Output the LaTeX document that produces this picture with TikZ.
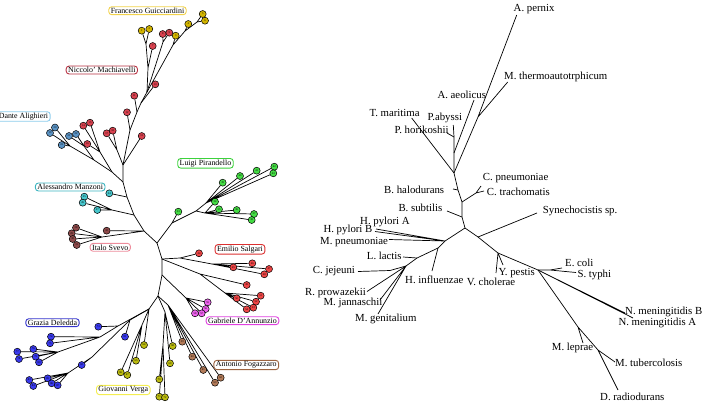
\documentclass[tikz,border=0pt]{standalone}
\usepackage{fontspec}
\setmainfont{Liberation Serif}
\usepackage{xcolor}
\usepackage{tikz}
\usetikzlibrary{positioning,backgrounds}

\definecolor{guicc}{HTML}{D2B400}
\definecolor{guicb}{HTML}{F2D24A}
\definecolor{machc}{HTML}{D8424F}
\definecolor{machb}{HTML}{B83040}
\definecolor{dantc}{HTML}{5B93C4}
\definecolor{dantb}{HTML}{8CCCEC}
\definecolor{manzc}{HTML}{46C6CC}
\definecolor{manzb}{HTML}{3CB4C0}
\definecolor{svevc}{HTML}{8E4A4A}
\definecolor{svevb}{HTML}{EE8C9C}
\definecolor{pirac}{HTML}{44DC44}
\definecolor{pirab}{HTML}{3CD23C}
\definecolor{salgc}{HTML}{EE4646}
\definecolor{salgb}{HTML}{DC3030}
\definecolor{dannc}{HTML}{EE62EE}
\definecolor{dannb}{HTML}{E040E0}
\definecolor{fogac}{HTML}{B27A58}
\definecolor{fogab}{HTML}{9C6440}
\definecolor{vergc}{HTML}{BCBC10}
\definecolor{vergb}{HTML}{F4EE50}
\definecolor{delec}{HTML}{3A3AEE}
\definecolor{deleb}{HTML}{3434CC}

\begin{document}
\begin{tikzpicture}[
    x=1pt, y=-1pt,
    font=\fontsize{10.8}{12}\selectfont,
    leaf/.style={
        circle,
        draw=black,
        line width=0.5pt,
        inner sep=0pt,
        minimum size=7pt,
        font=\fontsize{2.8}{3}\selectfont
    },
    gui/.style={leaf, fill=guicc},
    mac/.style={leaf, fill=machc},
    dan/.style={leaf, fill=dantc},
    man/.style={leaf, fill=manzc},
    sve/.style={leaf, fill=svevc},
    pir/.style={leaf, fill=pirac},
    sal/.style={leaf, fill=salgc},
    dnn/.style={leaf, fill=dannc},
    fog/.style={leaf, fill=fogac},
    ver/.style={leaf, fill=vergc},
    del/.style={leaf, fill=delec},
    tag/.style={
        draw,
        rounded corners=3pt,
        line width=0.9pt,
        fill=white,
        inner xsep=2pt,
        inner ysep=1.2pt,
        font=\fontsize{7.9}{9}\selectfont
    },
    lab/.style={anchor=west, inner sep=0pt},
    edge/.style={line width=0.7pt}
]
\useasboundingbox (0,0) rectangle (702,408);

% left tree: author tags
\node[tag, draw=guicb] (lguic) at (147.5,10.7) {Francesco Guicciardini};
\node[tag, draw=machb] (lmach) at (101.8,70) {Niccolo’ Machiavelli};
\node[tag, draw=dantb] (ldant) at (23.5,116.5) {Dante Alighieri};
\node[tag, draw=manzb] (lmanz) at (70.2,187) {Alessandro Manzoni};
\node[tag, draw=svevb] (lsvev) at (110.3,247.3) {Italo Svevo};
\node[tag, draw=pirab] (lpira) at (205.5,163.3) {Luigi Pirandello};
\node[tag, draw=salgb] (lsalg) at (240,249.3) {Emilio Salgari};
\node[tag, draw=dannb] (ldann) at (242.5,320.7) {Gabriele D’Annunzio};
\node[tag, draw=fogab] (lfoga) at (246.3,365) {Antonio Fogazzaro};
\node[tag, draw=vergb] (lverg) at (123.3,390) {Giovanni Verga};
\node[tag, draw=deleb] (ldele) at (52.5,322.7) {Grazia Deledda};

% left tree: leaves
\node[gui] (gu1) at (141.7,30.7) {1};
\node[gui] (gu2) at (149.3,29) {2};
\node[gui] (gu3) at (175.7,35.7) {3};
\node[gui] (gu4) at (188.3,24) {4};
\node[gui] (gu5) at (202.7,14) {5};
\node[gui] (gu6) at (205,20.7) {6};
\node[mac] (ma1) at (152.7,46) {7};
\node[mac] (ma2) at (162.7,34) {8};
\node[mac] (ma3) at (169.3,32.7) {9};
\node[mac] (ma4) at (155.3,84.3) {10};
\node[mac] (ma5) at (134.3,95.7) {11};
\node[mac] (ma6) at (127,112.3) {12};
\node[mac] (ma7) at (141.7,136) {13};
\node[mac] (ma8) at (83.3,125.7) {14};
\node[mac] (ma9) at (90,122.7) {15};
\node[mac] (ma10) at (87.3,144) {16};
\node[mac] (ma11) at (106.7,133.3) {17};
\node[mac] (ma12) at (112.7,130.7) {18};
\node[dan] (da1) at (50,133) {19};
\node[dan] (da2) at (55,127.5) {20};
\node[dan] (da3) at (69,136) {21};
\node[dan] (da4) at (76,134) {22};
\node[dan] (da5) at (61.7,145) {23};
\node[man] (mz1) at (109.3,193.3) {24};
\node[man] (mz2) at (84.3,196.7) {25};
\node[man] (mz3) at (82.7,202.7) {26};
\node[man] (mz4) at (97.3,210) {27};
\node[sve] (sv1) at (76,227.7) {28};
\node[sve] (sv2) at (71.7,233.3) {29};
\node[sve] (sv3) at (72.7,239) {30};
\node[sve] (sv4) at (76.7,245) {31};
\node[sve] (sv5) at (106.7,230.7) {32};
\node[pir] (pi1) at (178.3,211.7) {33};
\node[pir] (pi2) at (215,201.7) {34};
\node[pir] (pi3) at (219,209.3) {35};
\node[pir] (pi4) at (236.7,210) {36};
\node[pir] (pi5) at (254,214) {37};
\node[pir] (pi6) at (251.7,220) {38};
\node[pir] (pi7) at (222.7,182.7) {39};
\node[pir] (pi8) at (240,176) {40};
\node[pir] (pi9) at (256.7,170.7) {41};
\node[pir] (pi10) at (274.3,166.7) {42};
\node[pir] (pi11) at (273.3,173.3) {43};
\node[sal] (sa1) at (199,253.3) {44};
\node[sal] (sa2) at (233.3,267.3) {45};
\node[sal] (sa3) at (252.3,263.3) {46};
\node[sal] (sa4) at (269,269) {47};
\node[sal] (sa5) at (264.3,274.3) {48};
\node[sal] (sa6) at (246.7,285) {49};
\node[sal] (sa7) at (236.7,298.3) {50};
\node[sal] (sa8) at (260.7,295.7) {51};
\node[sal] (sa9) at (256,301.7) {52};
\node[sal] (sa10) at (253.3,307.7) {53};
\node[sal] (sa11) at (246.7,309.3) {54};
\node[dnn] (an1) at (207.7,302.3) {55};
\node[dnn] (an2) at (205.7,309) {56};
\node[dnn] (an3) at (201.7,313.3) {57};
\node[dnn] (an4) at (195,313.3) {58};
\node[fog] (fo1) at (182.3,341.7) {59};
\node[fog] (fo2) at (192.3,356.7) {60};
\node[fog] (fo3) at (203.3,370) {61};
\node[fog] (fo4) at (220.7,377.7) {62};
\node[fog] (fo5) at (215,382.7) {63};
\node[ver] (ve1) at (144,345) {64};
\node[ver] (ve2) at (136,360.7) {65};
\node[ver] (ve3) at (120.7,372.3) {66};
\node[ver] (ve4) at (127.3,375) {67};
\node[ver] (ve5) at (172.7,346) {68};
\node[ver] (ve6) at (170,363.3) {69};
\node[ver] (ve7) at (159.3,379.3) {70};
\node[ver] (ve8) at (159.3,396.7) {71};
\node[ver] (ve9) at (165,397.3) {72};
\node[del] (de1) at (98.3,326.7) {73};
\node[del] (de2) at (51,336.7) {74};
\node[del] (de3) at (50,343.3) {75};
\node[del] (de4) at (33.3,349) {76};
\node[del] (de5) at (17.3,351.7) {77};
\node[del] (de6) at (19,359) {78};
\node[del] (de7) at (35.7,356.7) {79};
\node[del] (de8) at (39,362.3) {80};
\node[del] (de9) at (125,336.7) {81};
\node[del] (de10) at (81.7,365) {82};
\node[del] (de11) at (29.3,380) {83};
\node[del] (de12) at (33.3,386) {84};
\node[del] (de13) at (47.7,378.3) {85};
\node[del] (de14) at (51.7,383.3) {86};
\node[del] (de15) at (57.7,385.3) {87};

% left tree: inner points
\coordinate (c0) at (157,243);
\coordinate (c1) at (162,259);
\coordinate (c2) at (162,275);
\coordinate (c3) at (158,296);
\coordinate (t1) at (144,231);
\coordinate (t2) at (134,215);
\coordinate (t3) at (127,197);
\coordinate (t4) at (123,182);
\coordinate (t5) at (123,165);
\coordinate (t6) at (130,130);
\coordinate (t7) at (137,112);
\coordinate (t8) at (141,103);
\coordinate (t9) at (147,92);
\coordinate (hm) at (148,68);
\coordinate (hga) at (146,44);
\coordinate (hrb) at (163,42);
\coordinate (hgb) at (173,45);
\coordinate (hgc) at (185,31);
\coordinate (hgd) at (197,22);
\coordinate (hd1) at (112,172);
\coordinate (hd2) at (94,160);
\coordinate (hd3) at (70,146);
\coordinate (hd4) at (84,146);
\coordinate (hd5) at (100,152);
\coordinate (hd6) at (117,150);
\coordinate (hz) at (112,210);
\coordinate (hs) at (102,237);
\coordinate (hp0) at (172,223);
\coordinate (hpa) at (196,211);
\coordinate (hpl) at (205,213);
\coordinate (hpu) at (206,203);
\coordinate (hsa) at (180,258);
\coordinate (hsu) at (212,264);
\coordinate (hsl) at (200,274);
\coordinate (hsm) at (225,293);
\coordinate (hn) at (186,298);
\coordinate (hvl) at (149,309);
\coordinate (hva) at (142,325);
\coordinate (hb1) at (118,326);
\coordinate (hb2) at (100,337);
\coordinate (hb3) at (58,352);
\coordinate (hb4) at (130,320);
\coordinate (hb5) at (92,357);
\coordinate (hb6) at (68,373);
\coordinate (hvb) at (165,312);
\coordinate (hvc) at (163,345);
\coordinate (hf) at (168,305);

% right tree: inner points
\coordinate (r0) at (465,228);
\coordinate (ru1) at (462,202);
\coordinate (ru2) at (454,173);
\coordinate (ru3) at (454,153);
\coordinate (ru4) at (454,137);
\coordinate (ru5) at (478,117);
\coordinate (rbh) at (458,190);
\coordinate (rbs) at (462,217);
\coordinate (rcc) at (476,193);
\coordinate (rl1) at (445,241);
\coordinate (rl2) at (438,248);
\coordinate (rl3) at (417,258);
\coordinate (rl4) at (406,266);
\coordinate (rl5) at (390,270.5);
\coordinate (rs1) at (478,237);
\coordinate (rs2) at (498,253);
\coordinate (rs3) at (538,270);
\coordinate (rs4) at (550,270);
\coordinate (rs5) at (578,327);
\coordinate (rs6) at (598,350);

% right tree: tips
\coordinate (pernix) at (516.7,15);
\coordinate (thermo) at (507.7,82);
\coordinate (aeolicus) at (474,100);
\coordinate (maritima) at (411.7,118);
\coordinate (abyssi) at (453.3,125);
\coordinate (horikoshii) at (447,133);
\coordinate (cpneu) at (481,186);
\coordinate (trach) at (484,191);
\coordinate (halo) at (453,189);
\coordinate (subtilis) at (447,211);
\coordinate (pyloriA) at (376,229);
\coordinate (pyloriB) at (375,231.5);
\coordinate (mpneu) at (389,239.5);
\coordinate (influ) at (432,271);
\coordinate (lactis) at (403,257);
\coordinate (jejeuni) at (358,271.5);
\coordinate (prowa) at (367,291.5);
\coordinate (janna) at (380,300);
\coordinate (genita) at (378,314);
\coordinate (synecho) at (537,213);
\coordinate (cholerae) at (496,273);
\coordinate (pestis) at (503,265);
\coordinate (ecoli) at (562,268);
\coordinate (typhi) at (576,272.5);
\coordinate (nmenB) at (625,313);
\coordinate (nmenA) at (633,318);
\coordinate (leprae) at (583,343);
\coordinate (tuberc) at (615,362);
\coordinate (radio) at (618,390);

% right tree: species names
\node[lab] (lpernix) at (513.5,9) {A. pernix};
\node[lab] (lthermo) at (504,76.7) {M. thermoautotrphicum};
\node[lab] (laeolicus) at (437.3,95) {A. aeolicus};
\node[lab] (lmaritima) at (369.3,113.3) {T. maritima};
\node[lab] (labyssi) at (427.3,118.3) {P.abyssi};
\node[lab] (lhorikoshii) at (394.3,130) {P. horikoshii};
\node[lab] (lcpneu) at (482.7,177.7) {C. pneumoniae};
\node[lab] (ltrach) at (486.7,191.7) {C. trachomatis};
\node[lab] (lhalo) at (384,190) {B. halodurans};
\node[lab] (lsubtilis) at (398.3,208.3) {B. subtilis};
\node[lab] (lpyloriA) at (360,221.7) {H. pylori A};
\node[lab] (lpyloriB) at (323.3,230) {H. pylori B};
\node[lab] (lmpneu) at (320,241.7) {M. pneumoniae};
\node[lab] (llactis) at (366.7,256) {L. lactis};
\node[lab] (ljejeuni) at (312.7,271) {C. jejeuni};
\node[lab] (linflu) at (405,280) {H. influenzae};
\node[lab] (lprowa) at (305,292.7) {R. prowazekii};
\node[lab] (ljanna) at (323.3,303.3) {M. jannaschii};
\node[lab] (lgenita) at (355,319.3) {M. genitalium};
\node[lab] (lcholerae) at (466.7,281.7) {V. cholerae};
\node[lab] (lpestis) at (498.3,273.3) {Y. pestis};
\node[lab] (lsynecho) at (542.7,210.7) {Synechocistis sp.};
\node[lab] (lecoli) at (565,263.3) {E. coli};
\node[lab] (ltyphi) at (577.3,275) {S. typhi};
\node[lab] (lnmenB) at (625,312.3) {N. meningitidis B};
\node[lab] (lnmenA) at (618.3,323.3) {N. meningitidis A};
\node[lab] (lleprae) at (551.7,348.3) {M. leprae};
\node[lab] (ltuberc) at (615,362.7) {M. tubercolosis};
\node[lab] (lradio) at (600,397.3) {D. radiodurans};

\begin{scope}[on background layer]
% left tree: branches
\draw[edge] (c0) -- (t1) -- (t2) -- (t3) -- (t4) -- (t5) -- (t6) -- (t7) -- (t8) -- (t9);
\draw[edge] (t9) -- (hm) -- (hga) -- (gu1) (hga) -- (gu2) (hm) -- (ma1);
\draw[edge] (t9) -- (hrb) -- (ma2) (hrb) -- (ma3);
\draw[edge] (t9) -- (hgb) -- (gu3) (hgb) -- (hgc) -- (gu4) (hgc) -- (hgd) -- (gu5) (hgd) -- (gu6);
\draw[edge] (t8) -- (ma4) (t7) -- (ma5) (t6) -- (ma6) (t5) -- (ma7);
\draw[edge] (t4) -- (hd1) -- (hd2) -- (hd3) -- (da1) (hd3) -- (da2) (hd3) -- (da5) (hd2) -- (hd4) -- (da3) (hd4) -- (da4);
\draw[edge] (hd1) -- (hd5) -- (ma8) (hd5) -- (ma9) (hd5) -- (ma10);
\draw[edge] (t5) -- (hd6) -- (ma11) (hd6) -- (ma12);
\draw[edge] (t3) -- (mz1) (t2) -- (hz) -- (mz2) (hz) -- (mz3) (hz) -- (mz4);
\draw[edge] (t1) -- (sv5) (t1) -- (hs) -- (sv1) (hs) -- (sv2) (hs) -- (sv3) (hs) -- (sv4);
\draw[edge] (c0) -- (hp0) -- (pi1) (hp0) -- (hpa) -- (hpl) (hpa) -- (hpu);
\draw[edge] (hpl) -- (pi2) (hpl) -- (pi3) (hpl) -- (pi4) (hpl) -- (pi5) (hpl) -- (pi6);
\draw[edge] (hpu) -- (pi7) (hpu) -- (pi8) (hpu) -- (pi9) (hpu) -- (pi10) (hpu) -- (pi11);
\draw[edge] (c0) -- (c1) -- (hsa) -- (sa1) (hsa) -- (hsu);
\draw[edge] (hsu) -- (sa2) (hsu) -- (sa3) (hsu) -- (sa4) (hsu) -- (sa5);
\draw[edge] (c1) -- (hsl) -- (sa6) (hsl) -- (hsm) -- (sa7) (hsm) -- (sa8) (hsm) -- (sa9) (hsm) -- (sa10) (hsm) -- (sa11);
\draw[edge] (c1) -- (c2) -- (hn) -- (an1) (hn) -- (an2) (hn) -- (an3) (hn) -- (an4);
\draw[edge] (c2) -- (c3) -- (hvl) -- (ve1) (hvl) -- (hva) -- (ve2) (hva) -- (ve3) (hva) -- (ve4);
\draw[edge] (hvl) -- (hb1) -- (de1) (hb1) -- (hb2) -- (de2) (hb2) -- (de3) (hb2) -- (hb3);
\draw[edge] (hb3) -- (de4) (hb3) -- (de5) (hb3) -- (de6) (hb3) -- (de7) (hb3) -- (de8);
\draw[edge] (hvl) -- (hb4) -- (de9) (hb4) -- (hb5) -- (de10) (hb5) -- (hb6);
\draw[edge] (hb6) -- (de11) (hb6) -- (de12) (hb6) -- (de13) (hb6) -- (de14) (hb6) -- (de15);
\draw[edge] (c3) -- (hvb) -- (ve5) (hvb) -- (ve6) (hvb) -- (hvc) -- (ve7) (hvc) -- (ve8) (hvc) -- (ve9);
\draw[edge] (c3) -- (hf) -- (fo1) (hf) -- (fo2) (hf) -- (fo3) (hf) -- (fo4) (hf) -- (fo5);

% right tree: branches
\draw[edge] (r0) -- (rbs) -- (ru1) -- (rbh) -- (ru2) -- (ru3) -- (ru4) -- (abyssi);
\draw[edge] (ru4) -- (horikoshii) (ru3) -- (aeolicus) (ru2) -- (maritima);
\draw[edge] (ru2) -- (ru5) -- (pernix) (ru5) -- (thermo);
\draw[edge] (rbh) -- (halo) (rbs) -- (subtilis);
\draw[edge] (ru1) -- (rcc) -- (cpneu) (rcc) -- (trach);
\draw[edge] (r0) -- (rl1) -- (rl2) -- (rl3) -- (rl4) -- (rl5) -- (jejeuni);
\draw[edge] (rl1) -- (pyloriA) (rl1) -- (pyloriB) (rl1) -- (mpneu);
\draw[edge] (rl2) -- (influ) (rl3) -- (lactis);
\draw[edge] (rl4) -- (prowa) (rl4) -- (janna) (rl4) -- (genita);
\draw[edge] (r0) -- (rs1) -- (rs2) -- (rs3) -- (rs4) -- (ecoli) (rs4) -- (typhi);
\draw[edge] (rs1) -- (synecho) (rs2) -- (cholerae) (rs2) -- (pestis);
\draw[edge] (rs3) -- (nmenB) (rs3) -- (nmenA);
\draw[edge] (rs3) -- (rs5) -- (rs6) -- (radio) (rs5) -- (leprae) (rs6) -- (tuberc);
\end{scope}

\end{tikzpicture}
\end{document}
